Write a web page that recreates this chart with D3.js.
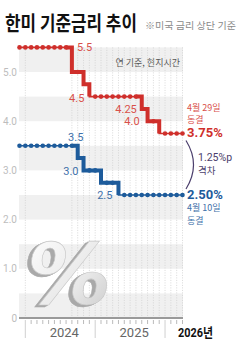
<!DOCTYPE html>
<html>
<head>
<meta charset="utf-8">
<script src="https://cdn.jsdelivr.net/npm/d3@7"></script>
<style>
  body { margin: 0; background: #fff; }
  svg { display: block; }
  text { font-family: Roboto, "Noto Sans CJK KR", sans-serif; }
  .kr { font-family: "Noto Sans CJK KR", sans-serif; }
</style>
</head>
<body>
<svg id="chart" width="242" height="345"></svg>
<script>
// monthly values, Dec 2023 .. Apr 2026
var months = ["2023-12",
  "2024-01","2024-02","2024-03","2024-04","2024-05","2024-06","2024-07","2024-08","2024-09","2024-10","2024-11","2024-12",
  "2025-01","2025-02","2025-03","2025-04","2025-05","2025-06","2025-07","2025-08","2025-09","2025-10","2025-11","2025-12",
  "2026-01","2026-02","2026-03","2026-04"];

// US fed funds upper bound (%)
var usRate = [5.5,
  5.5,5.5,5.5,5.5,5.5,5.5,5.5,5.5,5.0,5.0,4.75,4.5,
  4.5,4.5,4.5,4.5,4.5,4.5,4.5,4.5,4.25,4.0,4.0,3.75,
  3.75,3.75,3.75,3.75];

// Korea base rate (%)
var krRate = [3.5,
  3.5,3.5,3.5,3.5,3.5,3.5,3.5,3.5,3.5,3.25,3.0,3.0,
  3.0,2.75,2.75,2.75,2.5,2.5,2.5,2.5,2.5,2.5,2.5,2.5,
  2.5,2.5,2.5,2.5];

var yTicks = [0, 1, 2, 3, 4, 5];
var yTickLabels = ["0", "1.0", "2.0", "3.0", "4.0", "5.0"];
var bandStarts = [0, 1, 2, 3, 4, 5];
var yearStarts = ["2024-01", "2025-01", "2026-01"];
var yearLabels = ["2024", "2025", "2026년"];

// step labels on the lines
var usLabels = [
  {m: "2024-09", v: 5.5, t: "5.5"},
  {m: "2024-12", v: 4.5, t: "4.5"},
  {m: "2025-09", v: 4.25, t: "4.25"},
  {m: "2025-10", v: 4.0, t: "4.0"}
];
var krLabels = [
  {m: "2024-10", v: 3.5, t: "3.5"},
  {m: "2024-11", v: 3.0, t: "3.0"},
  {m: "2025-05", v: 2.5, t: "2.5"}
];

var usColor = "#cf2f2b", usLabelColor = "#d9504a";
var krColor = "#1d5b9b", krLabelColor = "#3f71aa";

var svg = d3.select("#chart");
var defs = svg.append("defs");

var x = d3.scaleLinear().domain([0, months.length - 1]).range([19.5, 182.5]);
var y = d3.scaleLinear().domain([0, 5.5]).range([318, 47.4]);
function xm(m) { return x(months.indexOf(m)); }

// squeeze a text horizontally to a given width
function fitWidth(sel, x0, y0, w) {
  var len = sel.node().getComputedTextLength();
  sel.attr("transform", "translate(" + x0 + "," + y0 + ") scale(" + (w / len) + ",1)");
}

// title
var title = svg.append("text")
  .attr("class", "kr")
  .style("font-size", "20px").style("font-weight", 700).style("fill", "#111")
  .text("한미 기준금리 추이");
fitWidth(title, 5, 31, 132);

var sub = svg.append("text")
  .attr("class", "kr")
  .style("font-size", "9.5px").style("fill", "#8a8a8a")
  .text("※미국 금리 상단 기준");
fitWidth(sub, 145, 29, 91);

// gray bands
svg.append("g").selectAll("rect")
  .data(bandStarts)
  .enter().append("rect")
  .attr("x", 19).attr("width", 164)
  .attr("y", function(d) { return y(d + 0.5); })
  .attr("height", function(d) { return y(d) - y(d + 0.5); })
  .style("fill", "#f0f0f0");

svg.append("text")
  .attr("class", "kr")
  .attr("x", 180).attr("y", 63).attr("dy", "0.35em")
  .attr("text-anchor", "end")
  .style("font-size", "9px").style("fill", "#555")
  .text("연 기준, 현지시간");

// dotted month grid
var gridIdx = [1].concat(d3.range(9, months.length));
svg.append("g").selectAll("line")
  .data(gridIdx)
  .enter().append("line")
  .attr("x1", function(d) { return x(d); }).attr("x2", function(d) { return x(d); })
  .attr("y1", y(5.5)).attr("y2", y(0))
  .style("stroke", "#cfcfcf").style("stroke-width", 0.8)
  .style("stroke-dasharray", "1,1.5");

// big percent sign (one text, extrusion done with a filter)
var grad = defs.append("linearGradient")
  .attr("id", "pctGrad").attr("x1", 0).attr("y1", 0).attr("x2", 1).attr("y2", 1);
grad.append("stop").attr("offset", "0%").attr("stop-color", "#ffffff");
grad.append("stop").attr("offset", "60%").attr("stop-color", "#e8e8e8");
grad.append("stop").attr("offset", "100%").attr("stop-color", "#c6c6c6");

var filt = defs.append("filter").attr("id", "pctShadow")
  .attr("x", "-20%").attr("y", "-20%").attr("width", "140%").attr("height", "140%");
filt.append("feOffset").attr("in", "SourceAlpha").attr("dx", -4).attr("dy", 2).attr("result", "off1");
filt.append("feOffset").attr("in", "SourceAlpha").attr("dx", -2).attr("dy", 1).attr("result", "off2");
filt.append("feMerge").attr("result", "offs")
  .call(function(m) {
    m.append("feMergeNode").attr("in", "off1");
    m.append("feMergeNode").attr("in", "off2");
  });
filt.append("feFlood").attr("flood-color", "#a9a9a9").attr("result", "col");
filt.append("feComposite").attr("in", "col").attr("in2", "offs").attr("operator", "in").attr("result", "shadow");
filt.append("feGaussianBlur").attr("in", "shadow").attr("stdDeviation", 0.6).attr("result", "shadowB");
filt.append("feMerge")
  .call(function(m) {
    m.append("feMergeNode").attr("in", "shadowB");
    m.append("feMergeNode").attr("in", "SourceGraphic");
  });

svg.append("text")
  .attr("x", 27).attr("y", 304)
  .attr("filter", "url(#pctShadow)")
  .style("font-family", "DejaVu Sans").style("font-size", "84px")
  .style("font-weight", 700).style("font-style", "italic")
  .style("fill", "url(#pctGrad)").style("stroke", "#c6c6c6").style("stroke-width", 0.6)
  .text("%");

// y labels
svg.append("g").selectAll("text")
  .data(yTicks)
  .enter().append("text")
  .attr("x", 17).attr("y", function(d) { return y(d); }).attr("dy", "0.35em")
  .attr("text-anchor", "end")
  .style("font-size", "10px").style("fill", "#bdbdbd")
  .text(function(d, i) { return yTickLabels[i]; });

// x axis
svg.append("line")
  .attr("x1", 19).attr("x2", 183).attr("y1", y(0)).attr("y2", y(0))
  .style("stroke", "#9a9a9a").style("stroke-width", 2);

svg.append("g").selectAll("line")
  .data(d3.range(1, months.length))
  .enter().append("line")
  .attr("x1", function(d) { return x(d); }).attr("x2", function(d) { return x(d); })
  .attr("y1", 320)
  .attr("y2", function(d) { return yearStarts.indexOf(months[d]) >= 0 ? 338 : 324; })
  .style("stroke", function(d) { return yearStarts.indexOf(months[d]) >= 0 ? "#c4c4c4" : "#aaa"; })
  .style("stroke-width", 0.8);

yearLabels.forEach(function(t, i) {
  var i0 = months.indexOf(yearStarts[i]);
  var last = i == yearLabels.length - 1;
  var el = svg.append("text")
    .attr("x", last ? x(i0) + 13 : x(i0 + 6.7))
    .attr("y", 337)
    .attr("text-anchor", last ? "start" : "middle")
    .style("font-size", "13px")
    .style("fill", last ? "#111" : "#666")
    .style("font-weight", last ? 700 : 400)
    .text(t);
  if (last) el.attr("textLength", 35).attr("lengthAdjust", "spacingAndGlyphs");
});

// series drawing
var stepLine = d3.line()
  .x(function(d) { return x(d.i); })
  .y(function(d) { return y(d.v); })
  .curve(d3.curveStepAfter);

function changeGroups(vals) {
  var groups = [];
  vals.forEach(function(v, i) {
    if (i == 0 || v === vals[i - 1]) return;
    var g = groups[groups.length - 1];
    if (g && i - g[1] <= 3) g[1] = i;
    else groups.push([i - 1, i]);
  });
  return groups;
}

function drawSeries(vals, color) {
  var pts = vals.map(function(v, i) { return {i: i, v: v}; });
  var g = svg.append("g");

  g.append("path")
    .attr("d", stepLine(pts))
    .style("fill", "none").style("stroke", color).style("stroke-width", 1.6);

  changeGroups(vals).forEach(function(gr) {
    g.append("path")
      .attr("d", stepLine(pts.slice(gr[0], gr[1] + 1)))
      .style("fill", "none").style("stroke", color)
      .style("stroke-width", 4).style("stroke-linejoin", "miter");
  });

  g.selectAll("circle")
    .data(pts.filter(function(d) { return d.i == 0 || d.v === vals[d.i - 1]; }))
    .enter().append("circle")
    .attr("cx", function(d) { return x(d.i); })
    .attr("cy", function(d) { return y(d.v); })
    .attr("r", 2.3)
    .style("fill", color);
}

drawSeries(usRate, usColor);
drawSeries(krRate, krColor);

// step labels
function stepLabel(d, dx, dy, anchor, color) {
  svg.append("text")
    .attr("x", xm(d.m) + dx).attr("y", y(d.v) + dy).attr("dy", "0.35em")
    .attr("text-anchor", anchor)
    .style("font-size", "11px").style("fill", color)
    .text(d.t);
}
stepLabel(usLabels[0], 5, 0, "start", usLabelColor);
stepLabel(usLabels[1], -5, 1.5, "end", usLabelColor);
stepLabel(usLabels[2], -5, 0, "end", usLabelColor);
stepLabel(usLabels[3], -8, -0.5, "end", usLabelColor);
stepLabel(krLabels[0], -2, -9, "middle", krLabelColor);
stepLabel(krLabels[1], -5, 0.5, "end", krLabelColor);
stepLabel(krLabels[2], -6, 0, "end", krLabelColor);

// right side notes
var lastUs = usRate[usRate.length - 1], lastKr = krRate[krRate.length - 1];

svg.append("text").attr("class", "kr")
  .attr("x", 187).attr("y", y(lastUs) - 26).attr("dy", "0.35em")
  .style("font-size", "9px").style("fill", usLabelColor).text("4월 29일");
svg.append("text").attr("class", "kr")
  .attr("x", 187).attr("y", y(lastUs) - 14).attr("dy", "0.35em")
  .style("font-size", "9px").style("fill", usLabelColor).text("동결");
svg.append("text")
  .attr("x", 187).attr("y", y(lastUs) - 1).attr("dy", "0.35em")
  .style("font-size", "13px").style("font-weight", 700).style("fill", usColor)
  .text(d3.format(".2f")(lastUs) + "%");

svg.append("text")
  .attr("x", 187).attr("y", y(lastKr) - 1).attr("dy", "0.35em")
  .style("font-size", "13px").style("font-weight", 700).style("fill", krColor)
  .text(d3.format(".2f")(lastKr) + "%");
svg.append("text").attr("class", "kr")
  .attr("x", 187).attr("y", y(lastKr) + 13).attr("dy", "0.35em")
  .style("font-size", "9px").style("fill", krLabelColor).text("4월 10일");
svg.append("text").attr("class", "kr")
  .attr("x", 187).attr("y", y(lastKr) + 25.5).attr("dy", "0.35em")
  .style("font-size", "9px").style("fill", krLabelColor).text("동결");

// gap bracket
var gapTop = y(lastUs) + 7, gapBot = y(lastKr) - 6;
svg.append("path")
  .attr("d", "M186," + gapTop + " Q201," + ((gapTop + gapBot) / 2) + " 186," + gapBot)
  .style("fill", "none").style("stroke", "#4b3e6c").style("stroke-width", 1.2);

svg.append("text")
  .attr("x", 198).attr("y", (gapTop + gapBot) / 2 - 7).attr("dy", "0.35em")
  .style("font-size", "10.5px").style("fill", "#4b3e6c")
  .text(d3.format(".2f")(lastUs - lastKr) + "%p");
svg.append("text").attr("class", "kr")
  .attr("x", 198).attr("y", (gapTop + gapBot) / 2 + 6).attr("dy", "0.35em")
  .style("font-size", "9.5px").style("fill", "#4b3e6c")
  .text("격차");
</script>
</body>
</html>
